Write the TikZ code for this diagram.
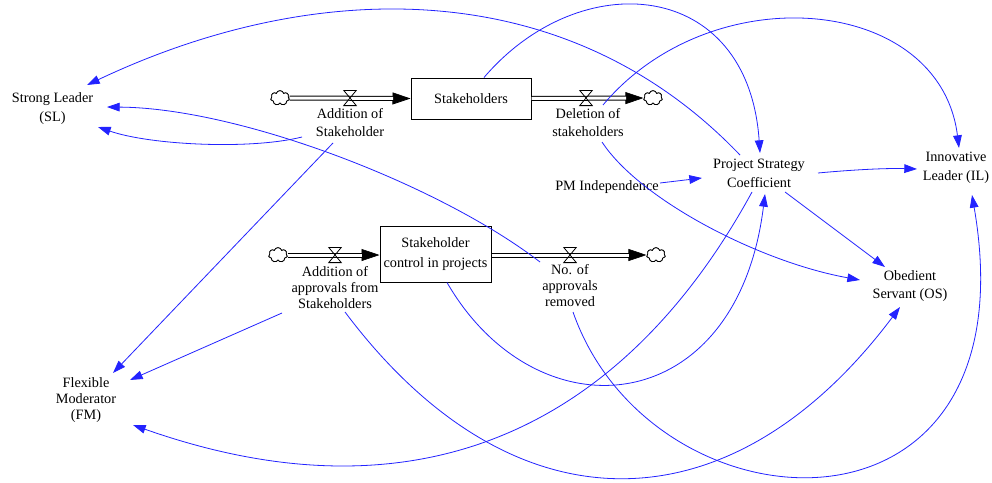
\documentclass[tikz,border=0pt]{standalone}
\usepackage{fontspec}
\setmainfont{Liberation Serif}
\usetikzlibrary{arrows.meta,shapes.symbols,calc}
\definecolor{linkblue}{RGB}{35,35,255}
\begin{document}
\begin{tikzpicture}[x=0.75pt,y=-0.75pt,
  lbl/.style={align=center, inner sep=0pt, font=\fontsize{10.7}{14}\selectfont},
  lblthree/.style={align=center, inner sep=0pt, font=\fontsize{10.7}{12}\selectfont},
  stock/.style={draw, line width=0.75pt, inner sep=0pt, align=center},
  source/.style={cloud, cloud puffs=7, aspect=1.3, draw, fill=white, line width=0.6pt,
    minimum width=14pt, minimum height=11pt, inner sep=0pt},
  valve/.style={minimum width=9pt, minimum height=11pt, inner sep=0pt},
  pipe/.style={draw=black, double=white, double distance=2.25pt, line width=0.75pt},
  pipetip/.style={-{Triangle[length=13.5pt,width=9pt]}, line width=0.5pt},
  link/.style={draw=linkblue, line width=0.6pt, -{Triangle[length=9.5pt,width=6.5pt]}}
]
\fill[white] (0,0) rectangle (992,482);
\useasboundingbox (0,0) rectangle (992,482);

% ---- variables ----
\node[lbl] (sl)  at (52.5,108.5) {Strong Leader\\(SL)};
\node[lbl] (addA) at (350,122.5) {Addition of\\Stakeholder};
\node[lbl] (delS) at (588,122.5) {Deletion of\\stakeholders};
\node[lbl] (psc) at (759,173.5) {Project Strategy\\Coefficient};
\node[lbl] (pmi) at (607,187) {PM Independence};
\node[lbl] (il)  at (956,168) {Innovative\\Leader (IL)};
\node[lbl] (os)  at (910,286) {Obedient\\Servant (OS)};
\node[lblthree] (addB) at (335,287.5) {Addition of\\approvals from\\Stakeholders};
\node[lblthree] (remR) at (570,286) {No. of\\approvals\\removed};
\node[lblthree] (fm) at (86,400) {Flexible\\Moderator\\(FM)};

% ---- stocks ----
\node[stock, minimum width=90pt, minimum height=30.75pt, font=\fontsize{10.7}{14}\selectfont]
  (stk) at (471,98.5) {Stakeholders};
\node[stock, minimum width=83.25pt, minimum height=42pt, font=\fontsize{10.7}{15}\selectfont]
  (scp) at (435.5,254) {Stakeholder\\control in projects};

% ---- sources, sinks and valves ----
\node[source] (cloudA) at (280,98) {};
\node[source] (cloudD) at (653,98) {};
\node[source] (cloudB) at (278,255) {};
\node[source] (cloudR) at (656,255) {};
\node[valve] (valveA) at (350,98) {};
\node[valve] (valveD) at (586,98) {};
\node[valve] (valveB) at (335,255) {};
\node[valve] (valveR) at (570,255) {};

% ---- flow pipes ----
\draw[pipetip] (cloudA.east) -- (stk.west);
\draw[pipetip] (stk.east) -- (cloudD.west);
\draw[pipetip] (cloudB.east) -- (cloudB.east -| scp.west);
\draw[pipetip] (cloudR.west -| scp.east) -- (cloudR.west);
\draw[pipe, shorten >=13pt] (cloudA.east) -- (stk.west);
\draw[pipe, shorten >=13pt] (stk.east) -- (cloudD.west);
\draw[pipe, shorten >=13pt] (cloudB.east) -- (cloudB.east -| scp.west);
\draw[pipe, shorten >=13pt] (cloudR.west -| scp.east) -- (cloudR.west);
\foreach \v in {valveA,valveD,valveB,valveR}
  \draw[line width=0.6pt, line join=miter]
    (\v.north west) -- (\v.north east) -- (\v.south west) -- (\v.south east) -- cycle;
\foreach \c in {cloudA,cloudD,cloudB,cloudR}
  \node[source] at (\c) {};

% ---- causal links ----
\draw[link] ($(psc)+(-19,-18.5)$) .. controls (565,-28) and (313,-22) .. ($(sl)+(34.5,-23.5)$);
\draw[link] ($(stk.north)+(13,0)$) .. controls (580,-35) and (748,-22) .. ($(psc)+(1,-20.5)$);
\draw[link] ($(delS)+(15,-17.5)$) .. controls (712,-25) and (940,-5) .. ($(il)+(3,-20)$);
\draw[link] ($(delS)+(14,19.5)$) .. controls (640,200) and (760,262) .. ($(os)+(-50,-6)$);
\draw[link] ($(pmi)+(53,-4)$) -- ($(psc)+(-57,4.5)$);
\draw[link] ($(psc)+(59,-0.5)$) .. controls (850,170) and (885,168) .. ($(il)+(-39,1)$);
\draw[link] ($(psc)+(26,18.5)$) -- ($(os)+(-25,-19)$);
\draw[link] ($(psc)+(-7,18.5)$) .. controls (632,412) and (434,531) .. ($(fm)+(47,25)$);
\draw[link] ($(scp.south)+(11.5,0)$) .. controls (537,438) and (737,421) .. ($(psc)+(6,20.5)$);
\draw[link] ($(addB)+(10,24.5)$) .. controls (513,536) and (732,531) .. ($(os)+(-10,21)$);
\draw[link] ($(remR)+(3,26)$) .. controls (652,538) and (1035,560) .. ($(il)+(16,27)$);
\draw[link] ($(addA)+(-48,14.5)$) .. controls (250,150) and (150,145) .. ($(sl)+(45.5,18.5)$);
\draw[link] ($(remR)+(-30,-24)$) .. controls (440,185) and (240,108) .. ($(sl)+(54.5,-1.5)$);
\draw[link] ($(addA)+(-17,20.5)$) -- ($(fm)+(27,-27)$);
\draw[link] ($(addB)+(-53,25.5)$) -- ($(fm)+(44,-20)$);
\end{tikzpicture}
\end{document}
